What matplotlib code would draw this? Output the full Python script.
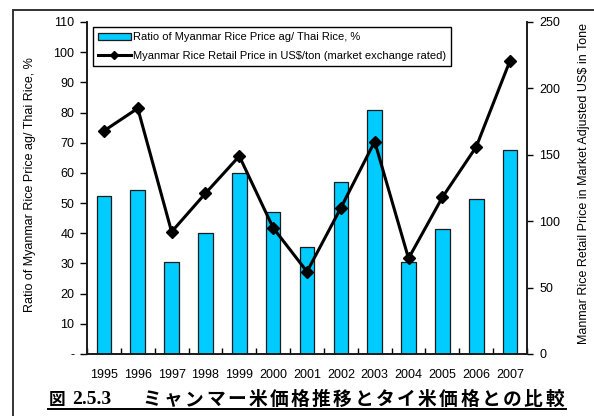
import matplotlib
matplotlib.use("Agg")
import matplotlib.pyplot as plt
from matplotlib.lines import Line2D
import numpy as np

years = ["1995", "1996", "1997", "1998", "1999", "2000", "2001",
         "2002", "2003", "2004", "2005", "2006", "2007"]
ratio_pct = [52.5, 54.5, 30.5, 40.0, 60.0, 47.0, 35.5,
             57.0, 81.0, 30.5, 41.5, 51.5, 67.5]
retail_usd = [168, 185, 92, 121, 149, 95, 62,
              110, 160, 72, 118, 156, 221]
left_ticks = [0, 10, 20, 30, 40, 50, 60, 70, 80, 90, 100, 110]
left_ticklabels = ["-", "10", "20", "30", "40", "50", "60", "70", "80", "90", "100", "110"]
right_ticks = [0, 50, 100, 150, 200, 250]

bar_label = "Ratio of Myanmar Rice Price ag/ Thai Rice, %"
line_label = "Myanmar Rice Retail Price in US$/ton (market exchange rated)"
left_ylabel = "Ratio of Myanmar Rice Price ag/ Thai Rice, %"
right_ylabel = "Manmar Rice Retail Price in Market Adjusted US$ in Tone"
fig_no = "図"
fig_num = "2.5.3"
fig_title = "ミャンマー米価格推移とタイ米価格との比較"

plt.rcParams["font.family"] = ["Liberation Sans", "DejaVu Sans"]

W, H = 594, 416
fig = plt.figure(figsize=(W / 100, H / 100), dpi=100)

def fx(px):
    return px / W

def fy(py):
    return 1 - py / H

# outer frame: top and left rules only
fig.add_artist(Line2D([fx(13), fx(594)], [fy(10), fy(10)], color="#333333", lw=1.4))
fig.add_artist(Line2D([fx(13), fx(13)], [fy(10), fy(416)], color="#333333", lw=1.4))

ax = fig.add_axes([fx(87), fy(354), fx(527) - fx(87), (354 - 22) / H])
x = np.arange(len(years))
bars = ax.bar(x, ratio_pct, width=0.43, color="#00CCFF", edgecolor="#1a1a1a",
              linewidth=0.9, zorder=2)
ax.set_xlim(-0.5, len(years) - 0.5)
ax.set_ylim(0, 110)
ax.set_yticks(left_ticks)
ax.set_yticklabels(left_ticklabels)
ax.tick_params(axis="y", direction="out", length=5, width=1, pad=4, labelsize=9)
ax.set_xticks(x)
ax.set_xticklabels(years)
ax.tick_params(axis="x", which="major", length=0, pad=11, labelsize=9)
ax.set_xticks(np.arange(len(years) + 1) - 0.5, minor=True)
ax.tick_params(axis="x", which="minor", direction="in", length=4, width=1)

ax2 = ax.twinx()
ln, = ax2.plot(x, retail_usd, color="black", lw=2.2, marker="D", markersize=6,
               markerfacecolor="black", markeredgecolor="black", zorder=3)
ax2.set_ylim(0, 250)
ax2.set_yticks(right_ticks)
ax2.tick_params(axis="y", direction="out", length=4, width=1, pad=5, labelsize=9)

for a in (ax, ax2):
    for s in a.spines.values():
        s.set_linewidth(1.2)
        s.set_color("#1a1a1a")
ax.spines["top"].set_visible(False)
ax2.spines["top"].set_visible(False)

leg = ax.legend([bars, ln], [bar_label, line_label], loc="upper left",
                bbox_to_anchor=(0.013, 0.984), fontsize=8, frameon=True,
                fancybox=False, edgecolor="black", framealpha=1,
                handlelength=3.0, handletextpad=0.15, borderpad=0.45,
                labelspacing=0.75, borderaxespad=0, markerscale=0.7)
leg.get_frame().set_linewidth(1.0)

fig.text(fx(30), fy(185), left_ylabel, rotation=90, ha="center", va="center", fontsize=9)
fig.text(fx(584), fy(184), right_ylabel, rotation=90, ha="center", va="center", fontsize=9)

# caption: figure number, then evenly spaced bold characters, underlined
fig.text(fx(49), fy(399.5), fig_no, family=["Noto Sans CJK JP"], fontweight="bold",
         fontsize=12, ha="left", va="center")
fig.text(fx(72), fy(400), fig_num, family=["Liberation Serif"], fontweight="bold",
         fontsize=14, ha="left", va="center")
x0, x1 = 141, 565
pitch = (x1 - x0) / len(fig_title)
for i, ch in enumerate(fig_title):
    fig.text(fx(x0 + pitch * (i + 0.5)), fy(399.5), ch, family=["Noto Sans CJK JP"],
             fontweight="bold", fontsize=13.5, ha="center", va="center")
fig.add_artist(Line2D([fx(48), fx(566)], [fy(409), fy(409)], color="black", lw=1.4))

fig.savefig("out.png", dpi=100)
